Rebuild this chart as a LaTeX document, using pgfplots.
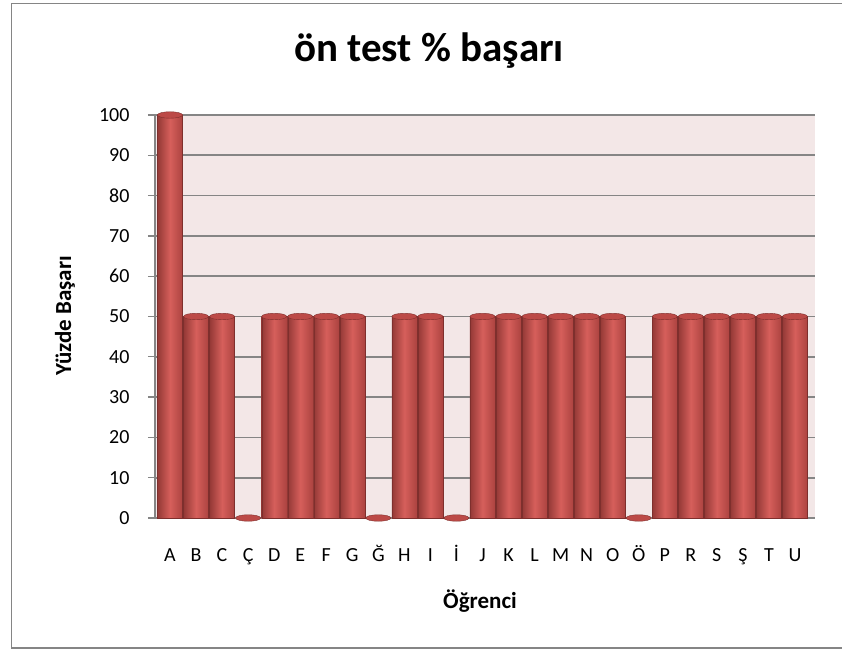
\documentclass[border=0pt]{standalone}
\usepackage{pgfplots}
\pgfplotsset{compat=1.18}
\usepackage{fontspec}
\setmainfont{Carlito}
\definecolor{barmid}{HTML}{D65F5B}
\definecolor{barleft}{HTML}{943936}
\definecolor{barright}{HTML}{AC4340}
\definecolor{baredge}{HTML}{7E2F2D}
\definecolor{capc}{HTML}{BC4A47}
\definecolor{wall}{HTML}{F3E7E7}
\definecolor{gridc}{HTML}{858585}
\pgfplotsset{cyl/.style={ybar, bar width=25pt, bar shift=0pt, draw=baredge, line width=0.3pt,
  left color=barleft, right color=barright, middle color=barmid},
  cap/.style={only marks, mark=*, mark size=12.5pt,
  mark options={yscale=0.26, fill=capc, draw=baredge, line width=0.4pt}}}
\begin{document}
\begin{tikzpicture}[x=1pt,y=1pt]
\path[use as bounding box] (-155,-132) rectangle (687,518);
\draw[draw=gridc, line width=1.6pt] (687,514.5) -- (-143.5,514.5) -- (-143.5,-130) -- (687,-130);
\begin{axis}[
  at={(0,0)}, anchor=south west,
  scale only axis, width=660pt, height=403pt,
  xmin=-0.576, xmax=24.77, ymin=0, ymax=100,
  axis background/.style={fill=wall},
  axis x line*=bottom, axis y line*=left,
  axis line style={draw=gridc, line width=1.3pt},
  ytick={0,10,...,100},
  ymajorgrids, grid style={draw=gridc, line width=1.6pt},
  xtick={0,...,24},
  xticklabels={A,B,C,Ç,D,E,F,G,Ğ,H,I,İ,J,K,L,M,N,O,Ö,P,R,S,Ş,T,U},
  xticklabel style={yshift=-15pt, text height=18pt, text depth=5pt, font=\fontsize{20}{22}\selectfont},
  yticklabel style={xshift=-15pt, font=\fontsize{20}{22}\selectfont},
  major x tick style={draw=none},
  major y tick style={draw=gridc, line width=1.3pt},
  tick align=outside, major tick length=7pt,
  /pgf/number format/assume math mode=true,
  clip=false,
]
\addplot[cyl] coordinates {(0,100)};
\addplot[cyl] coordinates {(1,50)};
\addplot[cyl] coordinates {(2,50)};
\addplot[cyl] coordinates {(3,0)};
\addplot[cyl] coordinates {(4,50)};
\addplot[cyl] coordinates {(5,50)};
\addplot[cyl] coordinates {(6,50)};
\addplot[cyl] coordinates {(7,50)};
\addplot[cyl] coordinates {(8,0)};
\addplot[cyl] coordinates {(9,50)};
\addplot[cyl] coordinates {(10,50)};
\addplot[cyl] coordinates {(11,0)};
\addplot[cyl] coordinates {(12,50)};
\addplot[cyl] coordinates {(13,50)};
\addplot[cyl] coordinates {(14,50)};
\addplot[cyl] coordinates {(15,50)};
\addplot[cyl] coordinates {(16,50)};
\addplot[cyl] coordinates {(17,50)};
\addplot[cyl] coordinates {(18,0)};
\addplot[cyl] coordinates {(19,50)};
\addplot[cyl] coordinates {(20,50)};
\addplot[cyl] coordinates {(21,50)};
\addplot[cyl] coordinates {(22,50)};
\addplot[cyl] coordinates {(23,50)};
\addplot[cyl] coordinates {(24,50)};
\addplot[cap] coordinates {(0,100)(1,50)(2,50)(3,0)(4,50)(5,50)(6,50)(7,50)(8,0)(9,50)(10,50)(11,0)(12,50)(13,50)(14,50)(15,50)(16,50)(17,50)(18,0)(19,50)(20,50)(21,50)(22,50)(23,50)(24,50)};
\end{axis}
\node[font=\fontsize{41}{44}\selectfont\bfseries] at (274,467) {ön test \% başarı};
\node[font=\fontsize{23}{26}\selectfont\bfseries, rotate=90] at (-90,202) {Yüzde Başarı};
\node[font=\fontsize{23}{26}\selectfont\bfseries] at (325,-83) {Öğrenci};
\end{tikzpicture}
\end{document}
